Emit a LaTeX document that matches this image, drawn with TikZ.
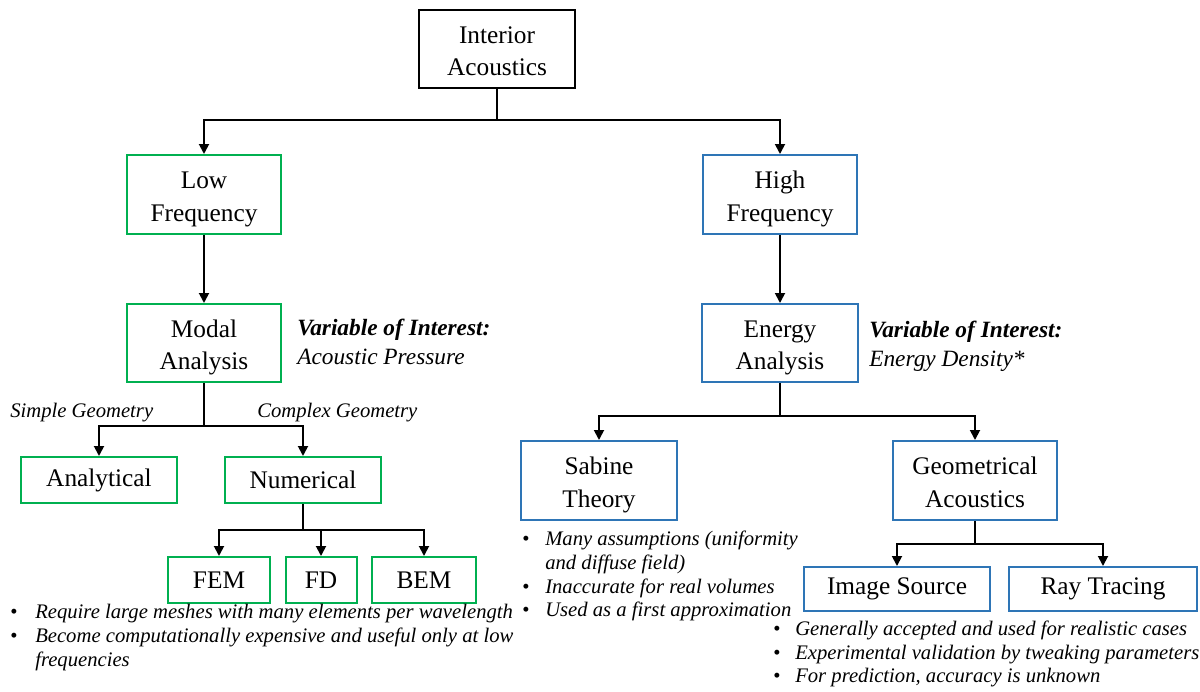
\documentclass[tikz,border=0pt]{standalone}
\usepackage{fontspec}
\setmainfont{Liberation Serif}
\usetikzlibrary{arrows.meta}
\definecolor{lowgreen}{RGB}{0,176,80}
\definecolor{highblue}{RGB}{46,117,182}
% two centred lines, set a little below the middle of their box
\newcommand\boxlines[2]{\raisebox{0pt}[\dimexpr\height+6pt\relax][\depth]{%
  \begin{tabular}{@{}c@{}}#1\\#2\end{tabular}}}
\begin{document}
\begin{tikzpicture}[x=0.75pt,y=-0.75pt,
  box/.style={draw, line width=1.5pt, inner sep=0pt, align=center,
    font=\fontsize{19}{24.5}\selectfont},
  topbox/.style={box, draw=black},
  lowbox/.style={box, draw=lowgreen},
  highbox/.style={box, draw=highblue},
  link/.style={line width=1.4pt},
  arr/.style={link, -{Triangle[length=7.5pt,width=7.5pt]}},
  note/.style={inner sep=0pt, anchor=base west,
    font=\fontsize{15.5}{18}\selectfont\itshape},
  dot/.style={inner sep=0pt, anchor=base, text height=1ex, text depth=0pt,
    font=\fontsize{15.5}{18}\selectfont},
  voi/.style={inner sep=0pt, anchor=base west,
    font=\fontsize{17.5}{20}\selectfont\bfseries\itshape},
  vval/.style={inner sep=0pt, anchor=base west,
    font=\fontsize{17.5}{20}\selectfont\itshape}]
\useasboundingbox (0,0) rectangle (1200,692);

% ---- boxes ----
\node[topbox, minimum width=117pt, minimum height=58.5pt] (ia) at (497,49) {\boxlines{Interior}{Acoustics}};

\node[lowbox, minimum width=115.5pt, minimum height=59.25pt] (low) at (204,194.5) {\boxlines{Low}{Frequency}};
\node[lowbox, minimum width=115.5pt, minimum height=58.5pt] (modal) at (204,343) {\boxlines{Modal}{Analysis}};
\node[lowbox, minimum width=117pt, minimum height=34.5pt] (analytical) at (99,480) {Analytical};
\node[lowbox, minimum width=117pt, minimum height=34.5pt] (numerical) at (303,480) {Numerical};
\node[lowbox, minimum width=76.5pt, minimum height=34.5pt] (fem) at (219,580) {FEM};
\node[lowbox, minimum width=53.25pt, minimum height=34.5pt] (fd) at (321,580) {FD};
\node[lowbox, minimum width=78pt, minimum height=34.5pt] (bem) at (424,580) {BEM};

\node[highbox, minimum width=115.5pt, minimum height=59.25pt] (high) at (780,194.5) {\boxlines{High}{Frequency}};
\node[highbox, minimum width=117pt, minimum height=58.5pt] (energy) at (780,343) {\boxlines{Energy}{Analysis}};
\node[highbox, minimum width=117pt, minimum height=59.25pt] (sabine) at (599,480.5) {\boxlines{Sabine}{Theory}};
\node[highbox, minimum width=123pt, minimum height=59.25pt] (geom) at (975,480.5) {\boxlines{Geometrical}{Acoustics}};
\node[highbox, minimum width=139.5pt, minimum height=33pt] (image) at (897,589) {Image Source};
\node[highbox, minimum width=141pt, minimum height=33pt] (ray) at (1103,589) {Ray Tracing};

% ---- connectors ----
\coordinate (jtop) at (497,120);
\draw[link] (ia) -- (jtop);
\draw[arr] (jtop) -| (low);
\draw[arr] (jtop) -| (high);

\draw[arr] (low) -- (modal);
\draw[arr] (high) -- (energy);

\coordinate (jmodal) at (204,426);
\draw[link] (modal) -- (jmodal);
\draw[arr] (jmodal) -| (analytical);
\draw[arr] (jmodal) -| (numerical);

\coordinate (jnum) at (303,530);
\draw[link] (numerical) -- (jnum);
\draw[arr] (jnum) -| (fem);
\draw[arr] (jnum) -| (fd);
\draw[arr] (jnum) -| (bem);

\coordinate (jenergy) at (780,416);
\draw[link] (energy) -- (jenergy);
\draw[arr] (jenergy) -| (sabine);
\draw[arr] (jenergy) -| (geom);

\coordinate (jgeom) at (975,544);
\draw[link] (geom) -- (jgeom);
\draw[arr] (jgeom) -| (image);
\draw[arr] (jgeom) -| (ray);

% ---- variable of interest ----
\node[voi] (voilow) at (297,335) {Variable of Interest:};
\node[vval] (vallow) at (297,364) {Acoustic Pressure};
\node[voi] (voihigh) at (869,337) {Variable of Interest:};
\node[vval] (valhigh) at (869,366) {Energy Density*};

% ---- branch labels ----
\node[note] (simple) at (10,417) {Simple Geometry};
\node[note] (complex) at (257,417) {Complex Geometry};

% ---- notes on numerical methods ----
\node[dot] (bl1) at (14,618) {\textbullet};
\node[note] (tl1) at (35,618) {Require large meshes with many elements per wavelength};
\node[dot] (bl2) at (14,642) {\textbullet};
\node[note] (tl2) at (35,642) {Become computationally expensive and useful only at low};
\node[note] (tl3) at (35,666) {frequencies};

% ---- notes on Sabine theory ----
\node[dot] (bs1) at (526,545) {\textbullet};
\node[note] (ts1) at (545,545) {Many assumptions (uniformity};
\node[note] (ts2) at (545,569) {and diffuse field)};
\node[dot] (bs3) at (526,593) {\textbullet};
\node[note] (ts3) at (545,593) {Inaccurate for real volumes};
\node[dot] (bs4) at (526,616) {\textbullet};
\node[note] (ts4) at (545,616) {Used as a first approximation};

% ---- notes on geometrical acoustics ----
\node[dot] (bg1) at (777,635) {\textbullet};
\node[note] (tg1) at (795,635) {Generally accepted and used for realistic cases};
\node[dot] (bg2) at (777,659) {\textbullet};
\node[note] (tg2) at (795,659) {Experimental validation by tweaking parameters};
\node[dot] (bg3) at (777,682) {\textbullet};
\node[note] (tg3) at (795,682) {For prediction, accuracy is unknown};
\end{tikzpicture}
\end{document}
